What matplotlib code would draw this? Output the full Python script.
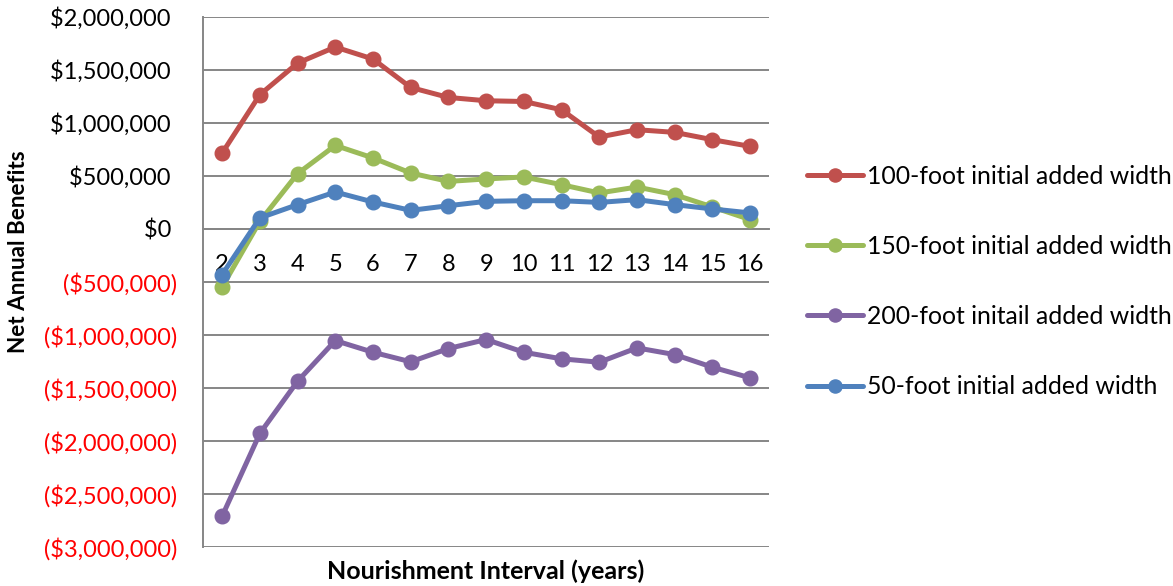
import matplotlib
matplotlib.use("Agg")
import matplotlib.pyplot as plt

plt.rcParams['font.family'] = ['Lato', 'DejaVu Sans']

intervals = [2, 3, 4, 5, 6, 7, 8, 9, 10, 11, 12, 13, 14, 15, 16]
series_names = ["100-foot initial added width", "150-foot initial added width",
                "200-foot initail added width", "50-foot initial added width"]
w100 = [715000, 1265000, 1563000, 1714000, 1601000, 1333000, 1239000, 1208000,
        1201000, 1123000, 866000, 935000, 910000, 841000, 778000]
w150 = [-546000, 72000, 521000, 787000, 669000, 527000, 448000, 471000,
        490000, 417000, 339000, 395000, 323000, 207000, 88000]
w200 = [-2706000, -1927000, -1435000, -1052000, -1162000, -1252000, -1127000, -1042000,
        -1162000, -1224000, -1256000, -1121000, -1184000, -1303000, -1403000]
w50 = [-430000, 104000, 229000, 348000, 254000, 175000, 219000, 260000,
       266000, 266000, 250000, 276000, 229000, 188000, 151000]
colors = ["#C0504D", "#9BBB59", "#8064A2", "#4F81BD"]
yticks = [2000000, 1500000, 1000000, 500000, 0, -500000, -1000000,
          -1500000, -2000000, -2500000, -3000000]

fig = plt.figure(figsize=(11.73, 5.86), dpi=100)
ax = fig.add_axes([203.3/1173, 1-547.3/586, (769-203.3)/1173, (547.3-16.7)/586])

xs = list(range(len(intervals)))
handles = []
for vals, c, name in zip([w100, w150, w200, w50], colors, series_names):
    h, = ax.plot(xs, vals, color=c, lw=3.6, marker='o', markersize=10.5,
                 solid_capstyle='round', label=name, zorder=3)
    handles.append(h)

ax.set_xlim(-0.5, len(intervals) - 0.5)
ax.set_ylim(-3000000, 2000000)
ax.set_yticks(yticks)

def fmt(v):
    if v < 0:
        return "(${:,.0f})".format(-v)
    return "${:,.0f} ".format(v)

ax.set_yticklabels([fmt(v) for v in yticks])
for lbl, v in zip(ax.get_yticklabels(), yticks):
    lbl.set_color('#FF0000' if v < 0 else 'black')
ax.tick_params(axis='y', labelsize=17, length=0, pad=19)

ax.set_xticks(xs)
ax.set_xticklabels([str(i) for i in intervals])
ax.tick_params(axis='x', labelsize=17, length=0, pad=18)

ax.grid(axis='y', color='#868686', lw=1.4)
ax.set_axisbelow(True)
for s in ['top', 'right']:
    ax.spines[s].set_visible(False)
ax.spines['left'].set_color('#868686')
ax.spines['left'].set_linewidth(1.4)
ax.spines['bottom'].set_position(('data', 0))
ax.spines['bottom'].set_color('#868686')
ax.spines['bottom'].set_linewidth(1.4)

fig.text(19/1173, 1-251.5/586, "Net Annual Benefits", rotation=90, ha='center',
         va='center', fontsize=16.2, fontweight='bold')
fig.text(486/1173, 1-571/586, "Nourishment Interval (years)", ha='center',
         va='center', fontsize=18, fontweight='bold')

leg = fig.legend(handles=handles, loc='center left',
                 bbox_to_anchor=(807/1173, 1-281.5/586), frameon=False,
                 fontsize=17.8, labelspacing=1.91, handlelength=2.27,
                 handletextpad=0.16, markerscale=0.9, borderpad=0,
                 borderaxespad=0)

fig.savefig("out.png", dpi=100)
